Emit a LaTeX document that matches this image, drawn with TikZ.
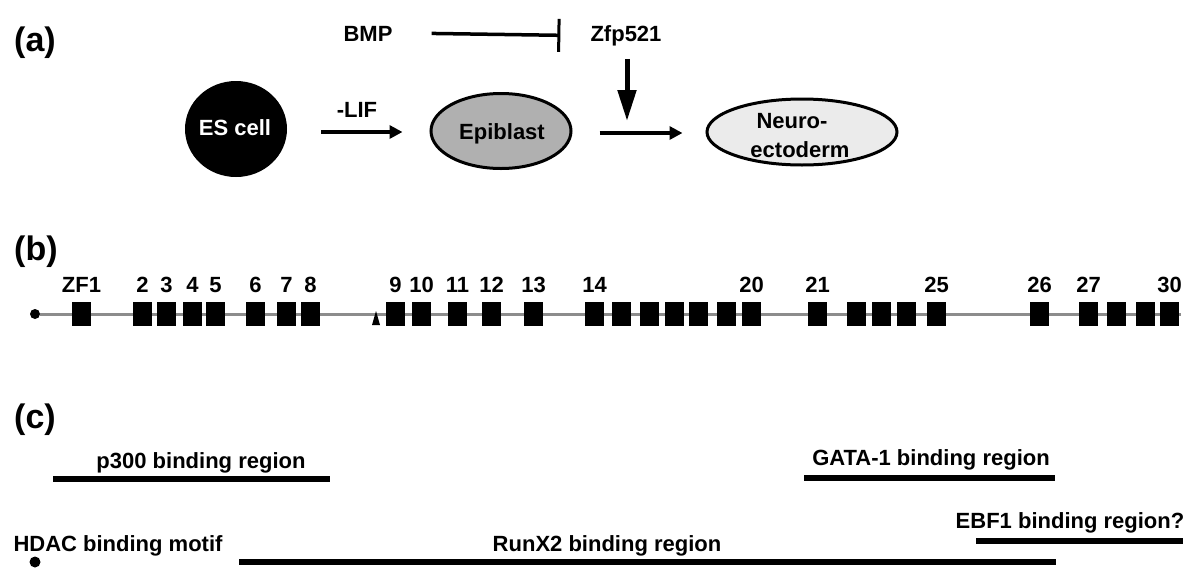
\documentclass[tikz,border=0pt]{standalone}
\usepackage{fontspec}
\setmainfont{Liberation Sans}
\usetikzlibrary{arrows.meta,shapes.geometric}
\definecolor{epigray}{HTML}{B0B0B0}
\definecolor{neurogray}{HTML}{EBEBEB}
\definecolor{genegray}{HTML}{8C8C8C}
\begin{document}
\begin{tikzpicture}[x=1pt,y=-1pt,
  lbl/.style={font=\fontsize{22}{24}\selectfont\bfseries, inner sep=0pt, anchor=base},
  panel/.style={font=\fontsize{34}{38}\selectfont\bfseries, inner sep=0pt, anchor=base west},
  cell/.style={ellipse, draw=black, line width=3pt, inner sep=0pt},
  act/.style={line width=4pt, -{Triangle[length=13pt,width=13pt]}},
  bigact/.style={line width=5pt, -{Triangle[length=31pt,width=18pt]}},
  inhibit/.style={line width=3.5pt, -{Bar[width=33pt,line width=3pt]}},
  exon/.style={rectangle, fill=black, minimum width=19pt, minimum height=24pt, inner sep=0pt},
  geneline/.style={genegray, line width=3pt},
  dotnode/.style={circle, fill=black, minimum size=11pt, inner sep=0pt},
  region/.style={line width=6pt}
]
\useasboundingbox (0,0) rectangle (1200,584);

% ---------- panel (a)
\node[panel] (pa) at (14,51) {(a)};
\node[lbl] (bmp) at (368,41) {BMP};
\node[lbl] (zfp) at (626,41) {Zfp521};
\node[cell, fill=black, line width=2pt, minimum width=100pt, minimum height=94pt] (es) at (236,129) {};
\node[lbl, text=white] (estext) at (235,135) {ES cell};
\node[cell, fill=epigray, minimum width=140pt, minimum height=75pt] (epi) at (501,131) {};
\node[lbl] (epitext) at (502,139) {Epiblast};
\node[cell, fill=neurogray, minimum width=190pt, minimum height=66pt] (neuro) at (802,132) {};
\node[lbl] (neuro1) at (792,128) {Neuro-};
\node[lbl] (neuro2) at (800,157) {ectoderm};
\node[lbl] (lif) at (357,117) {-LIF};
\coordinate (join) at (627,121);

\draw[inhibit] ([xshift=39pt]bmp.east) -- ([xshift=-30pt]zfp.west);
\draw[act, shorten <=34pt, shorten >=27pt] (es.east |- 0,132) -- (epi.west |- 0,132);
\draw[act, shorten <=27pt, shorten >=23pt] (epi.east |- 0,133) -- (neuro.west |- 0,133);
\draw[bigact] ([yshift=-13pt]zfp.south -| join) -- (join);

% ---------- panel (b)
\node[panel] (pb) at (14,260) {(b)};
\node[dotnode, minimum size=10pt] (gdot) at (35,314) {};
\coordinate (gend) at (1181,314);
\draw[geneline] (gdot) -- (gend);
\fill (372,325) -- (380,325) -- (376,311) -- cycle;
\foreach \xl [count=\i] in {72,133,157,183,206,246,277,301,386,412,448,482,524,585,612,640,665,689,717,742,808,847,872,897,927,1030,1079,1107,1136,1160}
  \node[exon] (e\i) at ({\xl+9.5},314) {};
\foreach \i/\t in {1/ZF1,2/2,3/3,4/4,5/5,6/6,7/7,8/8,9/9,10/10,11/11,12/12,13/13,14/14,20/20,21/21,25/25,26/26,27/27,30/30}
  \path (e\i.center) ++(0,-22) node[lbl] (n\i) {\t};

% ---------- panel (c)
\node[panel] (pc) at (14,428) {(c)};
\node[lbl] (p300) at (201,468) {p300 binding region};
\draw[region] (53,479) -- (330,479);
\node[lbl] (gata) at (931,465) {GATA-1 binding region};
\draw[region] (804,478) -- (1055,478);
\node[lbl] (ebf) at (1070,528) {EBF1 binding region?};
\draw[region] (976,541) -- (1183,541);
\node[lbl] (hdac) at (118,551) {HDAC binding motif};
\node[dotnode] (hdot) at (35,562) {};
\node[lbl] (runx) at (607,551) {RunX2 binding region};
\draw[region] (239,562) -- (1056,562);
\end{tikzpicture}
\end{document}
